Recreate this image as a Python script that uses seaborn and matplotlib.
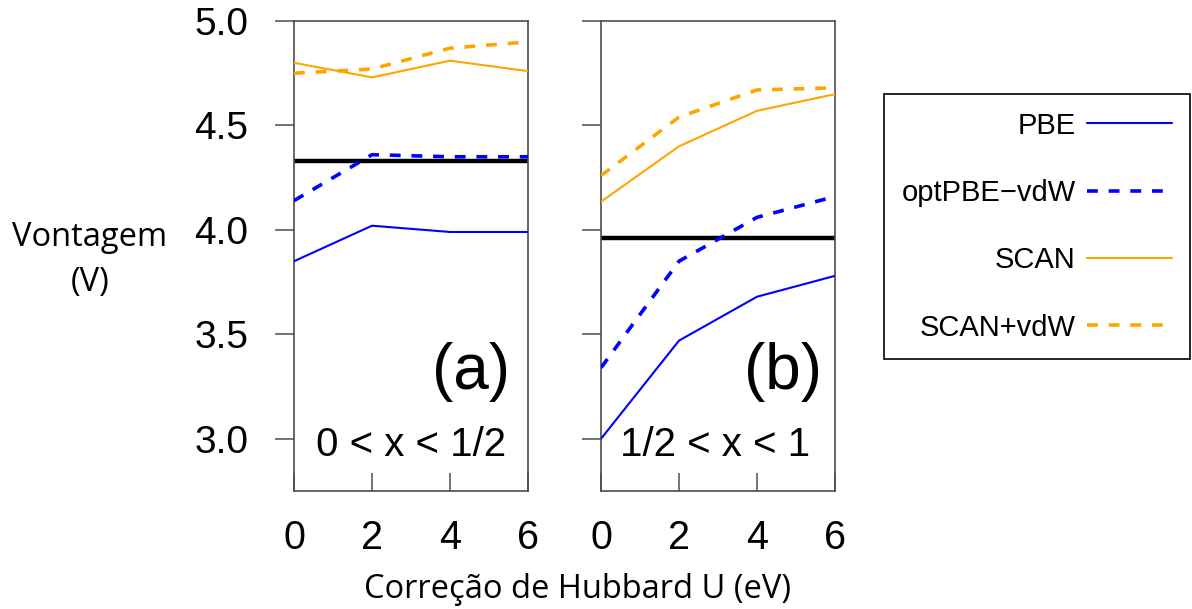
import numpy as np
import pandas as pd
import matplotlib
matplotlib.use('Agg')
import matplotlib.pyplot as plt
import seaborn as sns

# Hubbard U values (eV)
u_vals = [0, 2, 4, 6]

# panel (a): 0 < x < 1/2
pbe_a = [3.85, 4.02, 3.99, 3.99]
optpbe_a = [4.14, 4.36, 4.35, 4.35]
scan_a = [4.80, 4.73, 4.81, 4.76]
scanvdw_a = [4.75, 4.77, 4.87, 4.90]
exp_a = 4.33

# panel (b): 1/2 < x < 1
pbe_b = [3.00, 3.47, 3.68, 3.78]
optpbe_b = [3.34, 3.85, 4.06, 4.16]
scan_b = [4.135, 4.40, 4.57, 4.65]
scanvdw_b = [4.26, 4.54, 4.67, 4.68]
exp_b = 3.96

methods = ['PBE', 'optPBE\u2212vdW', 'SCAN', 'SCAN+vdW']
panel_tags = ['(a)', '(b)']
panel_ranges = ['0 < x < 1/2', '1/2 < x < 1']
y_ticks = [3.0, 3.5, 4.0, 4.5, 5.0]

sns.set_style("white")
plt.rcParams['font.family'] = ['Liberation Sans', 'DejaVu Sans']
plt.rcParams['text.color'] = 'black'
plt.rcParams['xtick.color'] = 'black'
plt.rcParams['ytick.color'] = 'black'

colors = ['#0000ff', '#0000ff', '#ffa500', '#ffa500']
styles = ['-', (0, (3, 3)), '-', (0, (3, 3))]
widths = [1.5, 2.6, 1.5, 2.6]

fig = plt.figure(figsize=(11.92, 6.09), dpi=100)
ax_a = fig.add_axes([294 / 1192, 118 / 609, 234 / 1192, 470 / 609])
ax_b = fig.add_axes([601 / 1192, 118 / 609, 234 / 1192, 470 / 609])

panels = [
    (ax_a, [pbe_a, optpbe_a, scan_a, scanvdw_a], exp_a),
    (ax_b, [pbe_b, optpbe_b, scan_b, scanvdw_b], exp_b),
]

for i, (ax, series, exp) in enumerate(panels):
    ax.axhline(exp, color='black', lw=3.2, zorder=1.5)
    for name, vals, c, ls, lw in zip(methods, series, colors, styles, widths):
        df = pd.DataFrame({'U': u_vals, 'V': vals})
        sns.lineplot(data=df, x='U', y='V', ax=ax, color=c, linestyle=ls,
                     linewidth=lw, label=name, legend=False, zorder=3)
    ax.set_xlim(0, 6)
    ax.set_ylim(2.75, 5.0)
    ax.set_xticks(u_vals)
    ax.set_yticks(y_ticks)
    ax.set_xlabel('')
    ax.set_ylabel('')
    for sp in ax.spines.values():
        sp.set_color('#4d4d4d')
        sp.set_linewidth(1.2)
    ax.tick_params(axis='x', bottom=True, direction='in', length=13, width=1.1,
                   color='#4d4d4d', labelcolor='black', labelsize=28.5, pad=20)
    ax.tick_params(axis='y', left=True, direction='out', length=14, width=1.1,
                   color='#4d4d4d', labelcolor='black', labelsize=28, pad=19)
    ax.text(0.925 if i == 0 else 0.945, 0.253, panel_tags[i], transform=ax.transAxes,
            ha='right', va='center', fontsize=46)
    ax.text(0.502 if i == 0 else 0.487, 0.098, panel_ranges[i], transform=ax.transAxes,
            ha='center', va='center', fontsize=29)

ax_a.set_yticklabels(['%.1f' % t for t in y_ticks])
ax_b.set_yticklabels([])

handles, labels = ax_a.get_legend_handles_labels()
leg = fig.legend(handles, labels, loc='upper left',
                 bbox_to_anchor=(884 / 1192, 1 - 94 / 609), borderaxespad=0,
                 markerfirst=False, fontsize=21, handlelength=2.9,
                 labelspacing=1.35, borderpad=0.6, handletextpad=0.4,
                 fancybox=False, framealpha=1, edgecolor='black')
leg.get_frame().set_linewidth(1.2)

fig.text(90 / 1192, 1 - 260 / 609, 'Vontagem\n(V)', ha='center', va='center',
         fontsize=23.5, linespacing=1.5, family=['Open Sans', 'DejaVu Sans'])
fig.text(577 / 1192, 1 - 589 / 609, 'Correção de Hubbard U (eV)', ha='center',
         va='center', fontsize=23.5, family=['Open Sans', 'DejaVu Sans'])

fig.savefig('out.png', dpi=100)
plt.close()
